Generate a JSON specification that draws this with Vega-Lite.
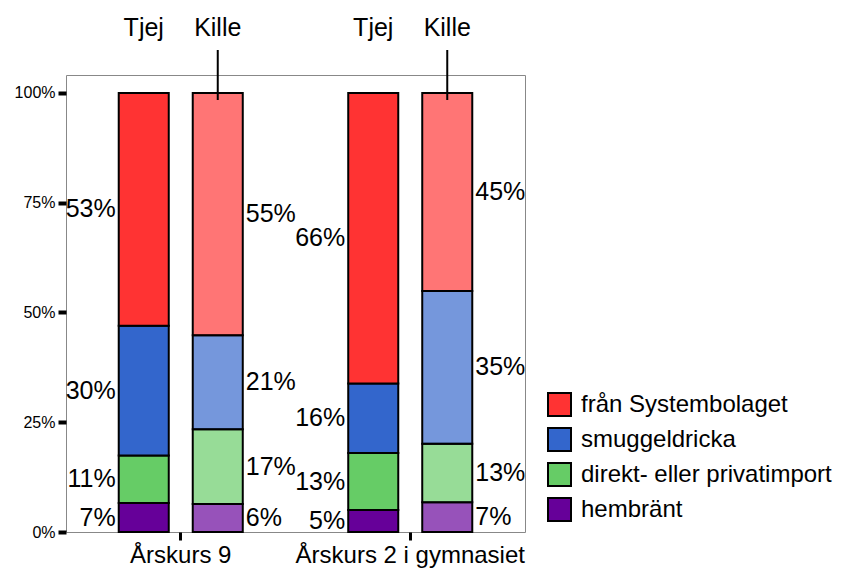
{
  "$schema": "https://vega.github.io/schema/vega-lite/v6.json",
  "autosize": {"type": "none"},
  "padding": {"left": 66, "top": 75, "right": 316, "bottom": 40},
  "width": 459,
  "height": 457,
  "background": "white",
  "config": {
    "view": {"stroke": "#888888", "strokeWidth": 1},
    "font": "Liberation Sans",
    "text": {"font": "Liberation Sans"}
  },
  "data": {
    "values": [
      {"grade": "Årskurs 9", "gender": "Tjej", "source": "hembränt", "ord": 1, "pct": 6.6},
      {"grade": "Årskurs 9", "gender": "Tjej", "source": "direkt- eller privatimport", "ord": 2, "pct": 10.8},
      {"grade": "Årskurs 9", "gender": "Tjej", "source": "smuggeldricka", "ord": 3, "pct": 29.6},
      {"grade": "Årskurs 9", "gender": "Tjej", "source": "från Systembolaget", "ord": 4, "pct": 53.0},
      {"grade": "Årskurs 9", "gender": "Kille", "source": "hembränt", "ord": 1, "pct": 6.4},
      {"grade": "Årskurs 9", "gender": "Kille", "source": "direkt- eller privatimport", "ord": 2, "pct": 17.0},
      {"grade": "Årskurs 9", "gender": "Kille", "source": "smuggeldricka", "ord": 3, "pct": 21.4},
      {"grade": "Årskurs 9", "gender": "Kille", "source": "från Systembolaget", "ord": 4, "pct": 55.2},
      {"grade": "Årskurs 2 i gymnasiet", "gender": "Tjej", "source": "hembränt", "ord": 1, "pct": 5.0},
      {"grade": "Årskurs 2 i gymnasiet", "gender": "Tjej", "source": "direkt- eller privatimport", "ord": 2, "pct": 13.0},
      {"grade": "Årskurs 2 i gymnasiet", "gender": "Tjej", "source": "smuggeldricka", "ord": 3, "pct": 15.8},
      {"grade": "Årskurs 2 i gymnasiet", "gender": "Tjej", "source": "från Systembolaget", "ord": 4, "pct": 66.2},
      {"grade": "Årskurs 2 i gymnasiet", "gender": "Kille", "source": "hembränt", "ord": 1, "pct": 6.8},
      {"grade": "Årskurs 2 i gymnasiet", "gender": "Kille", "source": "direkt- eller privatimport", "ord": 2, "pct": 13.3},
      {"grade": "Årskurs 2 i gymnasiet", "gender": "Kille", "source": "smuggeldricka", "ord": 3, "pct": 34.8},
      {"grade": "Årskurs 2 i gymnasiet", "gender": "Kille", "source": "från Systembolaget", "ord": 4, "pct": 45.1}
    ]
  },
  "encoding": {
    "x": {
      "field": "grade", "type": "nominal",
      "scale": {"domain": ["Årskurs 9", "Årskurs 2 i gymnasiet"], "paddingInner": 0, "paddingOuter": 0},
      "axis": {"title": null, "labelAngle": 0, "labelFontSize": 24, "labelColor": "black", "labelFont": "Liberation Sans",
               "labelLimit": 400, "tickColor": "black", "tickWidth": 3, "tickSize": 8, "labelPadding": 3, "domain": false}
    },
    "xOffset": {
      "field": "gender", "type": "nominal",
      "scale": {"domain": ["Tjej", "Kille"], "paddingInner": 0.324, "paddingOuter": 0.7125}
    }
  },
  "layer": [
    {
      "mark": {"type": "bar", "stroke": "black", "strokeWidth": 2},
      "encoding": {
        "y": {
          "field": "pct", "type": "quantitative", "stack": "zero",
          "scale": {"domain": [0, 104.1], "nice": false},
          "axis": {"title": null, "values": [0, 25, 50, 75, 100], "labelExpr": "datum.value + '%'",
                   "grid": false, "domain": false, "tickColor": "black", "tickWidth": 4, "tickSize": 8,
                   "labelFontSize": 16, "labelColor": "black", "labelFont": "Liberation Sans", "labelPadding": 3}
        },
        "order": {"field": "ord", "type": "quantitative", "sort": "ascending"},
        "color": {
          "field": "source", "type": "nominal",
          "scale": {
            "domain": ["från Systembolaget", "smuggeldricka", "direkt- eller privatimport", "hembränt"],
            "range": ["#FF3333", "#3366CC", "#66CC66", "#660099"]
          },
          "legend": {
            "title": null, "orient": "none", "legendX": 481, "legendY": 317,
            "symbolType": "square", "symbolSize": 529, "symbolStrokeColor": "black", "symbolStrokeWidth": 2,
            "symbolOpacity": 1,
            "labelFontSize": 24, "labelFont": "Liberation Sans", "labelColor": "black", "labelLimit": 400,
            "labelOffset": 9, "rowPadding": 4
          }
        },
        "fillOpacity": {"condition": {"test": "datum.gender === 'Kille'", "value": 0.68}, "value": 1}
      }
    },
    {
      "transform": [
        {"stack": "pct", "groupby": ["grade", "gender"], "sort": [{"field": "ord", "order": "ascending"}], "as": ["y0", "y1"]},
        {"calculate": "(datum.y0 + datum.y1) / 2", "as": "mid"},
        {"calculate": "format(datum.pct, '.0f') + '%'", "as": "label"},
        {"filter": "datum.gender === 'Tjej'"}
      ],
      "mark": {"type": "text", "align": "right", "baseline": "middle", "dx": -28, "fontSize": 25, "color": "black", "font": "Liberation Sans"},
      "encoding": {
        "y": {"field": "mid", "type": "quantitative"},
        "text": {"field": "label", "type": "nominal"}
      }
    },
    {
      "transform": [
        {"stack": "pct", "groupby": ["grade", "gender"], "sort": [{"field": "ord", "order": "ascending"}], "as": ["y0", "y1"]},
        {"calculate": "(datum.y0 + datum.y1) / 2", "as": "mid"},
        {"calculate": "format(datum.pct, '.0f') + '%'", "as": "label"},
        {"filter": "datum.gender === 'Kille'"}
      ],
      "mark": {"type": "text", "align": "left", "baseline": "middle", "dx": 28, "fontSize": 25, "color": "black", "font": "Liberation Sans"},
      "encoding": {
        "y": {"field": "mid", "type": "quantitative"},
        "text": {"field": "label", "type": "nominal"}
      }
    },
    {
      "transform": [{"filter": "datum.ord === 4"}],
      "mark": {"type": "text", "align": "center", "baseline": "middle", "fontSize": 25, "color": "black", "font": "Liberation Sans", "clip": false},
      "encoding": {
        "y": {"datum": 114.8, "type": "quantitative"},
        "text": {"field": "gender", "type": "nominal"}
      }
    },
    {
      "transform": [{"filter": "datum.ord === 4 && datum.gender === 'Kille'"}],
      "mark": {"type": "rule", "color": "black", "strokeWidth": 2, "clip": false},
      "encoding": {
        "y": {"datum": 109.8, "type": "quantitative"},
        "y2": {"datum": 98.4}
      }
    }
  ]
}
